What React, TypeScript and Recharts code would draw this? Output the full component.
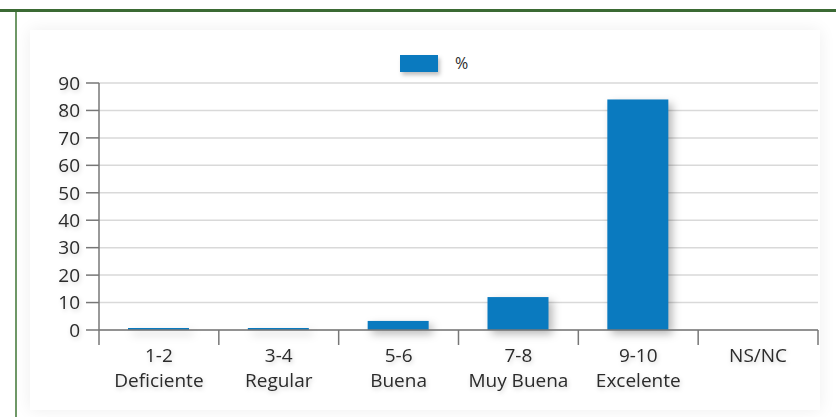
import React from "react";
import {
  BarChart,
  Bar,
  XAxis,
  YAxis,
  CartesianGrid,
  Legend,
} from "recharts";

const rangos = ["1-2", "3-4", "5-6", "7-8", "9-10", "NS/NC"];
const etiquetas = ["Deficiente", "Regular", "Buena", "Muy Buena", "Excelente", ""];
const porcentajes = [0.5, 0.5, 3.3, 12, 84, 0];
const yTicks = [0, 10, 20, 30, 40, 50, 60, 70, 80, 90];

const data = rangos.map((r, i) => ({
  rango: r,
  etiqueta: etiquetas[i],
  pct: porcentajes[i],
}));

const FONT = "'Open Sans', 'Noto Sans', sans-serif";
const BLUE = "#0a7abf";
const TEXT = "#2b2b2b";
const AXIS = "#777";
const SHADOW = "drop-shadow(1px 2px 2px rgba(0,0,0,0.18))";

const CategoryTick = (props: any) => {
  const { x, y, payload, index, visibleTicksCount } = props;
  const half = payload && payload.offset ? payload.offset : 60;
  const last = index === (visibleTicksCount ?? rangos.length) - 1;
  return (
    <g>
      <line x1={x - half} x2={x - half} y1={y} y2={y + 15} stroke={AXIS} strokeWidth={1.5} />
      {last ? (
        <line x1={x + half} x2={x + half} y1={y} y2={y + 15} stroke={AXIS} strokeWidth={1.5} />
      ) : null}
      <text
        x={x}
        y={y}
        textAnchor="middle"
        fill={TEXT}
        fontSize={19}
        fontFamily={FONT}
        style={{ filter: SHADOW }}
      >
        <tspan x={x} dy={32}>
          {payload.value}
        </tspan>
        {etiquetas[index] ? (
          <tspan x={x} dy={25}>
            {etiquetas[index]}
          </tspan>
        ) : null}
      </text>
    </g>
  );
};

const ShadowBar = (props: any) => {
  const { x, y, width, height, fill } = props;
  if (height <= 0) return null;
  const h = Math.max(height, 2);
  return (
    <rect
      x={x}
      y={y + height - h}
      width={width}
      height={h}
      fill={fill}
      style={{ filter: "drop-shadow(4px 4px 4px rgba(0,0,0,0.28))" }}
    />
  );
};

const LegendContent = () => (
  <div
    style={{
      display: "flex",
      alignItems: "center",
      fontFamily: FONT,
      fontSize: 16,
      color: TEXT,
    }}
  >
    <div
      style={{
        width: 38,
        height: 17,
        background: BLUE,
        marginRight: 17,
        boxShadow: "2px 3px 4px rgba(0,0,0,0.25)",
      }}
    />
    <span>%</span>
  </div>
);

export default function App() {
  return (
    <div
      style={{
        position: "absolute",
        left: 0,
        top: 0,
        width: 836,
        height: 417,
        background: "#ffffff",
        overflow: "hidden",
      }}
    >
      <div
        style={{
          position: "absolute",
          left: 0,
          top: 9,
          width: 836,
          height: 3,
          background: "#3b6a34",
        }}
      />
      <div
        style={{
          position: "absolute",
          left: 15,
          top: 12,
          width: 2,
          height: 405,
          background: "#6f9867",
        }}
      />
      <div
        style={{
          position: "absolute",
          left: 30,
          top: 30,
          width: 790,
          height: 380,
          background: "#fff",
          boxShadow: "0 0 16px rgba(0,0,0,0.07)",
        }}
      />
      <div style={{ position: "absolute", left: 0, top: 0 }}>
        <BarChart
          width={836}
          height={417}
          data={data}
          margin={{ top: 83, right: 18, bottom: 5, left: 39 }}
        >
          <CartesianGrid vertical={false} stroke="#d9d9d9" strokeWidth={1.5} />
          <XAxis
            dataKey="rango"
            height={60}
            interval={0}
            tickLine={false}
            tickSize={0}
            tickMargin={0}
            axisLine={{ stroke: AXIS, strokeWidth: 1.5 }}
            tick={<CategoryTick />}
          />
          <YAxis
            width={60}
            domain={[0, 90]}
            ticks={yTicks}
            interval={0}
            tickSize={13}
            tickMargin={6}
            axisLine={{ stroke: AXIS, strokeWidth: 1.5 }}
            tickLine={{ stroke: AXIS, strokeWidth: 1.5 }}
            tick={{
              fill: TEXT,
              fontSize: 19,
              fontFamily: FONT,
              style: { filter: SHADOW },
            }}
          />
          <Legend
            content={<LegendContent />}
            wrapperStyle={{ position: "absolute", top: 52, left: 400, width: 100 }}
          />
          <Bar
            dataKey="pct"
            name="%"
            fill={BLUE}
            barSize={61}
            shape={<ShadowBar />}
            isAnimationActive={false}
          />
        </BarChart>
      </div>
    </div>
  );
}
